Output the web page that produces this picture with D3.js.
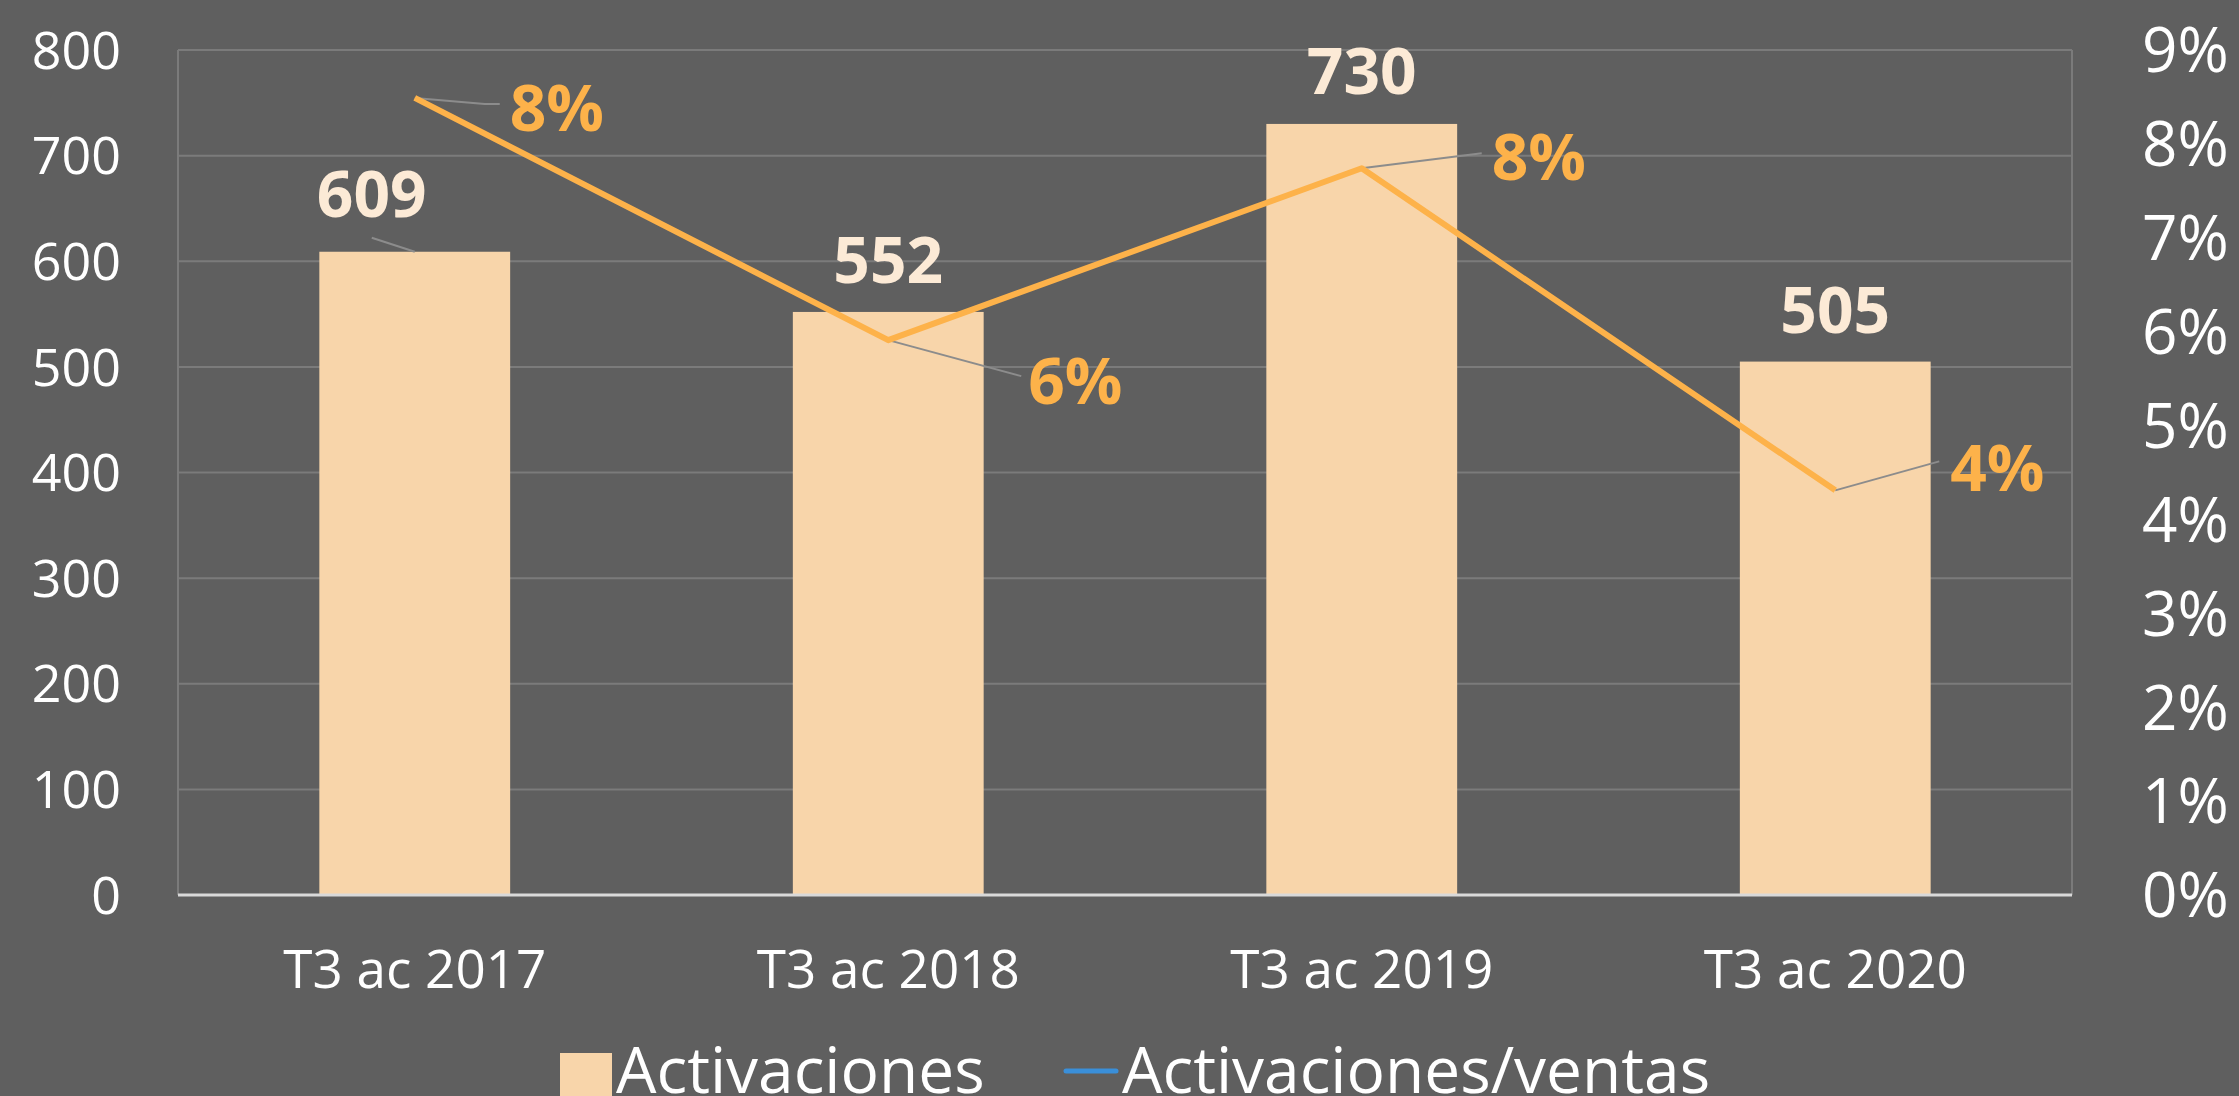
<!DOCTYPE html>
<meta charset="utf-8">
<style>
body { margin: 0; background: #5f5f5f; }
svg { display: block; font-family: "Open Sans", sans-serif; }
.grid line { stroke: #7b7b7b; stroke-width: 2px; }
.bar { fill: #f8d5aa; }
.ratio-line { fill: none; stroke: #fdb24a; stroke-width: 6px; stroke-linejoin: round; }
.leader { fill: none; stroke: #8c8c8c; stroke-width: 2px; }
.tick-label { fill: #ffffff; font-size: 52px; }
.bar-label { fill: #fcead6; font-size: 64px; font-weight: bold; text-anchor: middle; }
.pct-label { fill: #fdb24a; font-size: 64px; font-weight: bold; }
.legend-text { fill: #ffffff; font-size: 64px; }
</style>
<body>
<script src="https://d3js.org/d3.v7.min.js"></script>
<script>

// data
var categories = ["T3 ac 2017", "T3 ac 2018", "T3 ac 2019", "T3 ac 2020"];
var activaciones = [609, 552, 730, 505];
var ratio = [0.0849, 0.0591, 0.0774, 0.0431];
var leftTicks = [0, 100, 200, 300, 400, 500, 600, 700, 800];
var rightTicks = [0, 0.01, 0.02, 0.03, 0.04, 0.05, 0.06, 0.07, 0.08, 0.09];
var seriesNames = ["Activaciones", "Activaciones/ventas"];

// label placement (dx, dy from the mark)
var barLabelOffset = [[-43, -35], [0, -29], [0, -30], [0, -29]];
var pctLabelOffset = [[95, 33], [140, 64], [130, 12], [115, 1]];
var leaderEnd = [[85, 6], [133, 36], [120, -15], [104, -29]];

var W = 2239, H = 1096;
var plot = {left: 178, right: 2072, top: 50, bottom: 895};

var svg = d3.select("body").append("svg")
    .attr("width", W)
    .attr("height", H);

svg.append("rect").attr("width", W).attr("height", H).attr("fill", "#5f5f5f");

var x = d3.scaleBand()
    .domain(categories)
    .range([plot.left, plot.right])
    .paddingInner(0.597)
    .paddingOuter(0.2985);

var y = d3.scaleLinear().domain([0, 800]).range([plot.bottom, plot.top]);
var y2 = d3.scaleLinear().domain([0, 0.09]).range([plot.bottom, plot.top]);

// gridlines + plot border
var grid = svg.append("g").attr("class", "grid");
grid.selectAll("line.h")
    .data(leftTicks.slice(1))
  .enter().append("line")
    .attr("x1", plot.left).attr("x2", plot.right)
    .attr("y1", function(d) { return y(d); })
    .attr("y2", function(d) { return y(d); });
grid.append("line")
    .attr("x1", plot.left).attr("x2", plot.left)
    .attr("y1", plot.top).attr("y2", plot.bottom);
grid.append("line")
    .attr("x1", plot.right).attr("x2", plot.right)
    .attr("y1", plot.top).attr("y2", plot.bottom);

// bars
svg.selectAll(".bar")
    .data(activaciones)
  .enter().append("rect")
    .attr("class", "bar")
    .attr("x", function(d, i) { return x(categories[i]); })
    .attr("y", function(d) { return y(d); })
    .attr("width", x.bandwidth())
    .attr("height", function(d) { return y(0) - y(d); });

// baseline
svg.append("line")
    .attr("x1", plot.left).attr("x2", plot.right)
    .attr("y1", y(0)).attr("y2", y(0))
    .attr("stroke", "#d9d9d9").attr("stroke-width", 3);

// left axis labels
svg.selectAll(".ly")
    .data(leftTicks)
  .enter().append("text")
    .attr("class", "tick-label")
    .attr("x", 121)
    .attr("y", function(d) { return y(d); })
    .attr("dy", "0.36em")
    .attr("text-anchor", "end")
    .text(function(d) { return d; });

// right axis labels
svg.selectAll(".ry")
    .data(rightTicks)
  .enter().append("text")
    .attr("class", "tick-label")
    .attr("x", 2142)
    .attr("y", function(d) { return y2(d); })
    .attr("dy", "0.36em")
    .style("font-size", "62px")
    .text(d3.format(".0%"));

// category labels
svg.selectAll(".cat")
    .data(categories)
  .enter().append("text")
    .attr("class", "tick-label")
    .attr("x", function(d) { return x(d) + x.bandwidth() / 2; })
    .attr("y", 988)
    .attr("text-anchor", "middle")
    .style("font-size", "53px")
    .text(function(d) { return d; });

var cx = function(i) { return x(categories[i]) + x.bandwidth() / 2; };

// ratio line
var line = d3.line()
    .x(function(d, i) { return cx(i); })
    .y(function(d) { return y2(d); });

// leader lines
svg.selectAll(".leader-pct")
    .data(ratio)
  .enter().append("path")
    .attr("class", "leader")
    .attr("d", function(d, i) {
      var px = cx(i), py = y2(d);
      var e = leaderEnd[i];
      var p = "M" + px + "," + py + "L" + (px + e[0] - (i === 0 ? 15 : 0)) + "," + (py + e[1]);
      if (i === 0) p += "L" + (px + e[0]) + "," + (py + e[1]);
      return p;
    });

svg.append("path")
    .attr("class", "leader")
    .attr("d", "M" + (cx(0) + barLabelOffset[0][0]) + "," + (y(activaciones[0]) - 14) +
               "L" + cx(0) + "," + y(activaciones[0]));

svg.append("path")
    .datum(ratio)
    .attr("class", "ratio-line")
    .attr("d", line);

// bar value labels
svg.selectAll(".bar-label")
    .data(activaciones)
  .enter().append("text")
    .attr("class", "bar-label")
    .attr("x", function(d, i) { return cx(i) + barLabelOffset[i][0]; })
    .attr("y", function(d, i) { return y(d) + barLabelOffset[i][1]; })
    .text(function(d) { return d; });

// percent labels
svg.selectAll(".pct-label")
    .data(ratio)
  .enter().append("text")
    .attr("class", "pct-label")
    .attr("x", function(d, i) { return cx(i) + pctLabelOffset[i][0]; })
    .attr("y", function(d, i) { return y2(d) + pctLabelOffset[i][1]; })
    .text(d3.format(".0%"));

// legend
var legend = svg.append("g");
legend.append("rect")
    .attr("x", 560).attr("y", 1053)
    .attr("width", 52).attr("height", 50)
    .attr("fill", "#f8d5aa");
legend.append("text")
    .attr("class", "legend-text")
    .attr("x", 616).attr("y", 1093)
    .text(seriesNames[0]);
legend.append("line")
    .attr("x1", 1066).attr("x2", 1116)
    .attr("y1", 1071).attr("y2", 1071)
    .attr("stroke", "#3a8fd9").attr("stroke-width", 5)
    .attr("stroke-linecap", "round");
legend.append("text")
    .attr("class", "legend-text")
    .attr("x", 1122).attr("y", 1093)
    .text(seriesNames[1]);

</script>
</body>
